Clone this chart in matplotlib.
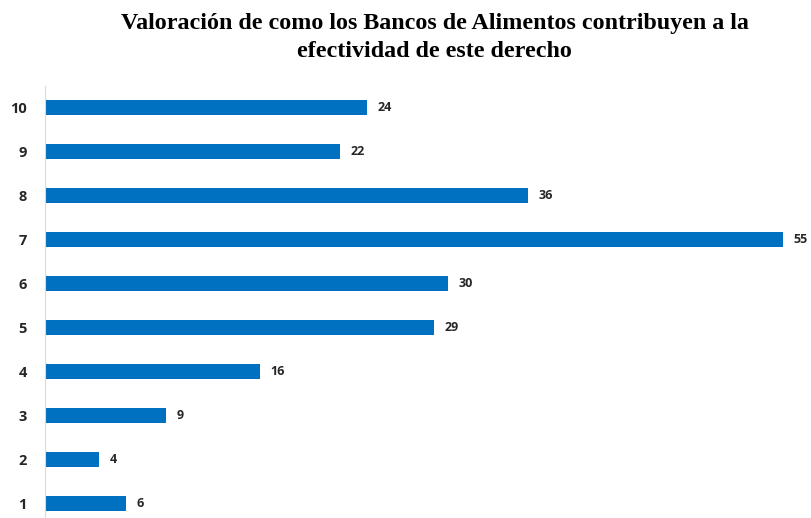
import matplotlib.pyplot as plt

categorias = [1, 2, 3, 4, 5, 6, 7, 8, 9, 10]
valores = [6, 4, 9, 16, 29, 30, 55, 36, 22, 24]

fig = plt.figure(figsize=(8.11, 5.18), dpi=100)
ax = fig.add_axes([0.0555, -0.0135, 0.91, 0.8475])

ax.barh(categorias, valores, height=0.34, color="#0070c0")
for c, v in zip(categorias, valores):
    ax.text(v + 0.8, c, str(v), va="center", ha="left", fontsize=9,
            fontweight="bold", family="Open Sans", color="#262626", clip_on=False)

ax.set_xlim(0, 55)
ax.set_ylim(0.5, 10.5)
ax.set_yticks(categorias)
ax.set_yticklabels([str(c) for c in categorias], fontsize=10.5, fontweight="bold",
                   family="Open Sans", color="#262626")
ax.set_xticks([])
ax.tick_params(axis="y", length=0, pad=13)
for s in ["top", "right", "bottom"]:
    ax.spines[s].set_visible(False)
ax.spines["left"].set_color("#d9d9d9")

fig.text(0.536, 0.975, "Valoración de como los Bancos de Alimentos contribuyen a la\nefectividad de este derecho",
         ha="center", va="top", fontsize=17.3, fontweight="bold", family="Liberation Serif",
         linespacing=1.45)

fig.savefig("out.png", dpi=100)
